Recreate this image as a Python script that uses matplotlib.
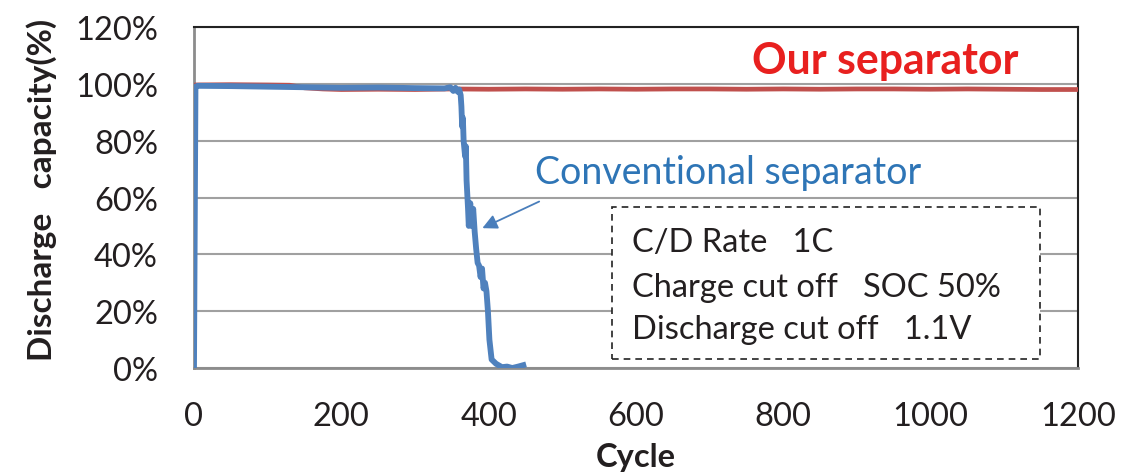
import matplotlib
matplotlib.use("Agg")
import matplotlib.pyplot as plt
from matplotlib.patches import Rectangle

plt.rcParams['font.family'] = ['Lato', 'DejaVu Sans']

# conventional separator (blue)
conv_cycle = [0, 2, 5, 50, 100, 150, 200, 250, 300, 340, 348, 352, 355, 358, 360,
              362, 363, 364, 365, 366, 368, 369, 370, 372, 373, 375, 377, 379, 381,
              383, 385, 387, 389, 391, 393, 395, 397, 399, 401, 404, 410, 418, 425,
              432, 440, 447]
conv_cap = [0, 99, 99.3, 99.2, 99, 98.8, 98.6, 98.7, 98.5, 98.4, 98.8, 97.5, 98.6, 97.2, 98,
            96, 92, 85, 88, 80, 74.5, 78, 66, 56, 50, 58, 50, 56, 48,
            42, 37, 36, 32, 35, 28, 30, 27, 20, 10, 3, 1.5, 0.3, 0.5,
            0, 0.5, 1]

# our separator (red)
our_cycle = [0, 2, 50, 100, 130, 150, 175, 200, 250, 300, 350, 400, 450, 500, 550,
             600, 650, 700, 750, 800, 850, 900, 950, 1000, 1050, 1100, 1150, 1200]
our_cap = [99.5, 99.6, 99.7, 99.6, 99.5, 98.6, 98.2, 98.0, 98.1, 98.0, 98.2, 98.1,
           98.2, 98.1, 98.2, 98.1, 98.2, 98.2, 98.1, 98.2, 98.1, 98.2, 98.2, 98.1,
           98.2, 98.1, 98.0, 98.0]

xticks = [0, 200, 400, 600, 800, 1000, 1200]
yticks = [0, 20, 40, 60, 80, 100, 120]
conditions = ["C/D Rate   1C", "Charge cut off   SOC 50%", "Discharge cut off   1.1V"]

fig = plt.figure(figsize=(11.22, 4.77), dpi=100)
ax = fig.add_axes([0.1729, 0.2264, 0.7879, 0.7149])

ax.plot(our_cycle, our_cap, color='#c0504d', lw=3.4, zorder=3)
ax.plot(conv_cycle, conv_cap, color='#4f81bd', lw=4.2, zorder=4, solid_joinstyle='round')

ax.set_xlim(0, 1200)
ax.set_ylim(0, 120)
ax.set_xticks(xticks)
ax.set_yticks(yticks)
ax.set_yticklabels([f"{v}%" for v in yticks])
ax.tick_params(length=0, labelsize=23.5, colors='#231f20')
ax.tick_params(axis='y', pad=26)
ax.tick_params(axis='x', pad=24)

ax.grid(axis='y', color='#a0a0a0', lw=1.5, zorder=1)
ax.set_axisbelow(True)
for s in ['left', 'bottom']:
    ax.spines[s].set_color('#8c8c8c')
    ax.spines[s].set_linewidth(2)
for s in ['top', 'right']:
    ax.spines[s].set_color('#222222')
    ax.spines[s].set_linewidth(1.5)

ax.set_ylabel("Discharge   capacity(%)", fontsize=24, fontweight='bold', color='#231f20')
ax.yaxis.set_label_coords(-0.155, 0.525)
ax.set_xlabel("Cycle", fontsize=23.5, fontweight='bold', labelpad=8, color='#231f20')

ax.text(757, 108.4, "Our separator", color='#e8201f', fontsize=30.8, fontweight='bold',
        va='center', ha='left', zorder=5)
ax.text(463, 69, "Conventional separator", color='#2e75b6', fontsize=27,
        va='center', ha='left', zorder=5)
ax.annotate("", xy=(388, 48.8), xytext=(472, 59),
            arrowprops=dict(arrowstyle='-|>', color='#4a7ebb', lw=1.3, mutation_scale=22),
            zorder=5)

ax.add_patch(Rectangle((567, 3.2), 581, 53.3, fill=True, facecolor='white',
                       edgecolor='#222222', ls=(0, (4, 3)), lw=1.2, zorder=5))
for txt, yv in zip(conditions, [44.2, 28.4, 13.7]):
    ax.text(594, yv, txt, fontsize=23.5, va='center', ha='left', color='#231f20', zorder=6)

fig.savefig("out.png", dpi=100)
